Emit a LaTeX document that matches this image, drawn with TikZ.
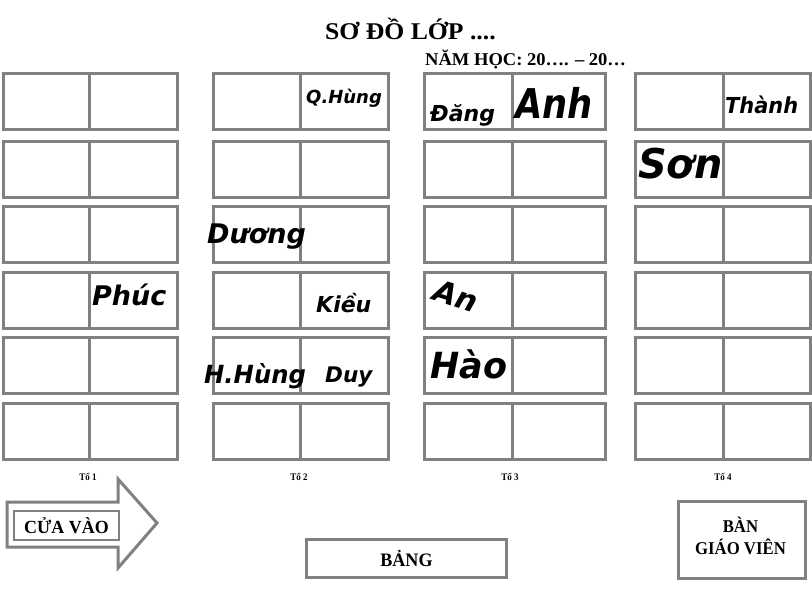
\documentclass[tikz,border=0pt]{standalone}
\usepackage{fontspec}
\setmainfont{Liberation Serif}
\newfontfamily\namefont{DejaVu Sans Bold Oblique}
\definecolor{deskgray}{HTML}{808080}
\newcommand\nmtext[3]{\fontsize{#1}{#1}\selectfont\scalebox{#2}[1]{#3}}
\tikzset{
  cell/.style={draw=deskgray, line width=3pt, rectangle, inner sep=0pt, anchor=north west, minimum height=56pt},
  pname/.style={inner sep=0pt, anchor=base west, font=\namefont},
  serifbold/.style={inner sep=0pt, font=\bfseries},
  grayframe/.style={draw=deskgray, line width=3pt},
}
\begin{document}
\begin{tikzpicture}[x=1pt,y=-1pt]
\useasboundingbox[fill=white] (0,0) rectangle (812,600);
% title
\node[serifbold, anchor=base west] (title) at (325,39) {\nmtext{24}{1.07}{SƠ ĐỒ LỚP ....}};
\node[serifbold, anchor=base west] (year) at (425,65) {\nmtext{18}{1.03}{NĂM HỌC: 20…. – 20…}};
% desks
\foreach \c/\xa/\xm/\xb in {1/2/88/176, 2/212/299/387, 3/423/511/604, 4/634/722/809}{
  \pgfmathsetmacro\wl{\xm-\xa}
  \pgfmathsetmacro\wr{\xb-\xm}
  \foreach \r/\yt in {1/72,2/140,3/205,4/271,5/336,6/402}{
    \node[cell, minimum width=\wl pt] (d\c-\r-L) at (\xa,\yt) {};
    \node[cell, minimum width=\wr pt] (d\c-\r-R) at (\xm,\yt) {};
  }
}
% group labels
\node[serifbold] (to1) at (88,477) {\nmtext{10}{0.9}{Tổ 1}};
\node[serifbold] (to2) at (299,477) {\nmtext{10}{0.9}{Tổ 2}};
\node[serifbold] (to3) at (510,477) {\nmtext{10}{0.9}{Tổ 3}};
\node[serifbold] (to4) at (723,477) {\nmtext{10}{0.9}{Tổ 4}};
% names
\node[pname] (qhung) at (306,103) {\nmtext{18}{1.0}{Q.Hùng}};
\node[pname] (dang) at (430,121) {\nmtext{22}{1.0}{Đăng}};
\node[pname] (anh) at (515,118) {\nmtext{41}{0.86}{Anh}};
\node[pname] (thanh) at (725,113) {\nmtext{22}{0.95}{Thành}};
\node[pname] (son) at (638,178) {\nmtext{41}{0.97}{Sơn}};
\node[pname] (duong) at (207,243) {\nmtext{27}{1.0}{Dương}};
\node[pname] (phuc) at (92,305) {\nmtext{27}{1.0}{Phúc}};
\node[pname] (kieu) at (316,312) {\nmtext{22}{1.0}{Kiều}};
\node[pname] (hhung) at (204,383) {\nmtext{25}{0.97}{H.Hùng}};
\node[pname] (duy) at (325,382) {\nmtext{21.5}{1.0}{Duy}};
\node[inner sep=0pt, font=\namefont, rotate=-18] (an) at (456,296) {\nmtext{30}{1.0}{An}};
\node[pname] (hao) at (430,378) {\nmtext{36}{0.97}{Hào}};
% entrance arrow
\draw[grayframe, line join=miter] (7,502) -- (118,502) -- (118,479) -- (157,523) -- (118,568) -- (118,547) -- (7,547) -- cycle;
\node[draw=deskgray, line width=2pt, rectangle, inner sep=0pt, minimum width=105pt, minimum height=29pt, anchor=north west] (doorbox) at (13,510) {};
\node[serifbold] (door) at (doorbox.center) {\nmtext{18.5}{0.97}{CỬA VÀO}};
% board
\node[grayframe, rectangle, inner sep=0pt, minimum width=200pt, minimum height=38pt, anchor=north west] (boardbox) at (305,538) {};
\node[serifbold] (board) at (boardbox.center) {\nmtext{19}{0.95}{BẢNG}};
% teacher desk
\node[grayframe, rectangle, inner sep=0pt, minimum width=127pt, minimum height=77pt, anchor=north west] (tbox) at (677,500) {};
\node[serifbold, anchor=base] (tline1) at (740.5,532) {\nmtext{18}{0.93}{BÀN}};
\node[serifbold, anchor=base] (tline2) at (740.5,554) {\nmtext{18}{0.93}{GIÁO VIÊN}};
\end{tikzpicture}
\end{document}
